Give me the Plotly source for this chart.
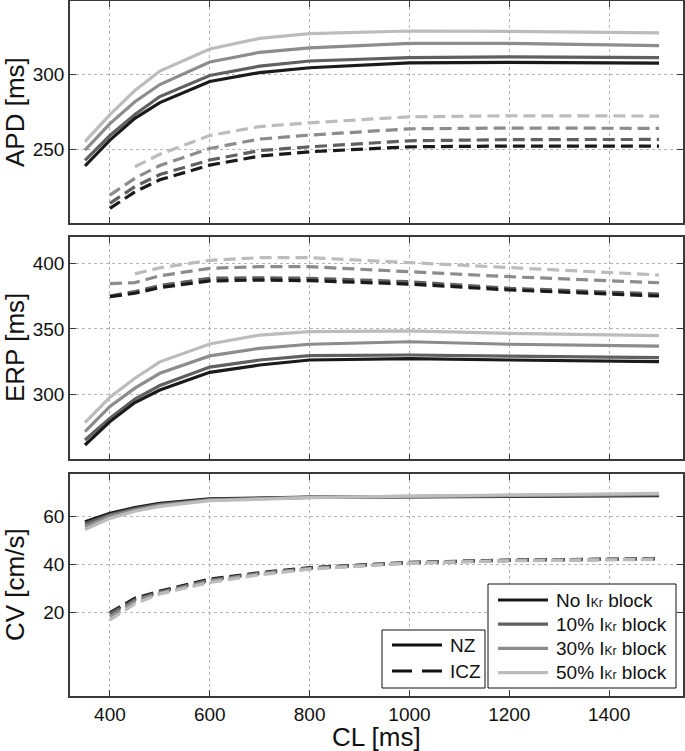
import plotly.graph_objects as go

# cycle length [ms]
CL = [350, 400, 450, 500, 600, 700, 800, 1000, 1200, 1500]

BLOCKS = ["No", "10%", "30%", "50%"]
COLORS = ["#1a1a1a", "#606060", "#8c8c8c", "#bcbcbc"]

# APD [ms]
APD_NZ = [
    [238.7, 256.0, 270.5, 281.0, 295.0, 301.0, 304.2, 307.5, 307.8, 307.3],
    [242.5, 259.0, 273.0, 285.0, 299.0, 305.3, 308.7, 311.0, 311.5, 311.0],
    [249.3, 267.0, 281.5, 293.0, 308.0, 314.5, 317.5, 320.4, 320.5, 319.0],
    [254.9, 273.0, 289.0, 302.0, 316.7, 323.8, 327.0, 328.7, 328.5, 327.5],
]
APD_ICZ = [
    [None, 210.4, 221.5, 229.5, 239.3, 245.3, 248.2, 251.5, 252.0, 252.0],
    [None, 213.8, 225.0, 233.0, 242.7, 249.0, 251.5, 255.5, 256.3, 256.4],
    [None, 219.3, 230.5, 239.0, 250.4, 256.7, 259.3, 263.5, 264.0, 263.8],
    [None, None, 238.2, 246.5, 259.0, 265.0, 267.5, 271.5, 272.2, 272.0],
]

# ERP [ms]
ERP_NZ = [
    [261.7, 279.5, 294.0, 303.5, 317.0, 322.6, 326.4, 327.5, 326.4, 325.1],
    [265.5, 282.0, 296.7, 307.0, 321.0, 326.4, 329.7, 330.2, 329.4, 328.2],
    [271.9, 291.0, 305.0, 316.3, 329.5, 335.3, 338.4, 340.3, 338.4, 337.0],
    [278.7, 298.0, 312.5, 325.0, 338.6, 345.4, 348.0, 348.5, 346.7, 344.9],
]
ERP_ICZ = [
    [None, 374.6, 377.2, 381.5, 386.6, 387.3, 386.8, 384.2, 379.7, 375.1],
    [None, 375.1, 378.5, 383.0, 388.6, 389.0, 388.6, 386.0, 381.0, 376.6],
    [None, 384.5, 385.3, 390.5, 396.2, 397.4, 397.4, 393.6, 389.8, 385.2],
    [None, None, 392.0, 396.5, 402.3, 404.3, 404.3, 400.5, 396.2, 391.1],
]

# CV [cm/s]
CV_NZ = [
    [57.9, 61.4, 63.8, 65.6, 67.5, 68.0, 68.2, 68.3, 68.6, 68.8],
    [57.0, 60.8, 63.3, 65.2, 67.2, 67.8, 68.1, 68.4, 68.8, 69.1],
    [55.8, 60.2, 62.8, 64.8, 67.0, 67.7, 68.1, 68.5, 69.0, 69.5],
    [54.6, 59.3, 62.3, 64.3, 66.7, 67.5, 68.0, 68.6, 69.2, 69.8],
]
CV_ICZ = [
    [None, 19.8, 25.8, 28.8, 33.8, 36.5, 38.6, 40.8, 41.8, 42.4],
    [None, 19.2, 25.2, 28.4, 33.4, 36.2, 38.4, 40.7, 41.7, 42.3],
    [None, 18.0, 24.4, 28.0, 33.0, 36.0, 38.2, 40.6, 41.6, 42.2],
    [None, 16.7, 23.4, 27.6, 32.4, 35.6, 38.0, 40.5, 41.5, 42.1],
]

X_TICKS = [400, 600, 800, 1000, 1200, 1400]
APD_TICKS = [250, 300]
ERP_TICKS = [300, 350, 400]
CV_TICKS = [20, 40, 60]

FONT = "Liberation Sans, Arial, sans-serif"
INK = "#111111"
FRAME = "#3a3a3a"
GRID = "#b5b5b5"
DASH = "12px,6px"
LW = 3.2

W, H = 685, 751
ML, MR, MT, MB = 70, 2, 1, 55
PW, PH = W - ML - MR, H - MT - MB


def px_x(px):
    return (px - ML) / PW


def px_y(py):
    return (H - MB - py) / PH


fig = go.Figure()

# (yaxis, NZ series, ICZ series, draw order)
panels = [
    ("y", APD_NZ, APD_ICZ, [3, 2, 1, 0]),
    ("y2", ERP_NZ, ERP_ICZ, [3, 2, 1, 0]),
    ("y3", CV_NZ, CV_ICZ, [0, 1, 2, 3]),   # grey bundle sits on top in CV
]
for i, (yref, nz, icz, order) in enumerate(panels):
    xref = "x" if i == 0 else f"x{i + 1}"
    for k in order:
        fig.add_trace(go.Scatter(x=CL, y=icz[k], mode="lines", xaxis=xref, yaxis=yref,
                                 line=dict(color=COLORS[k], width=LW, dash=DASH),
                                 showlegend=False, hoverinfo="skip"))
    for k in order:
        fig.add_trace(go.Scatter(x=CL, y=nz[k], mode="lines", xaxis=xref, yaxis=yref,
                                 line=dict(color=COLORS[k], width=LW),
                                 showlegend=False, hoverinfo="skip"))

# hand-drawn legends (MATLAB style: long line samples)
shapes, annotations = [], []


def legend_box(x0, x1, y0, y1):
    shapes.append(dict(type="rect", xref="paper", yref="paper",
                       x0=px_x(x0), x1=px_x(x1), y0=px_y(y1), y1=px_y(y0),
                       line=dict(color=INK, width=1), fillcolor="white", layer="above"))


def legend_item(x0, x1, yc, color, dash, text):
    shapes.append(dict(type="line", xref="paper", yref="paper",
                       x0=px_x(x0), x1=px_x(x1), y0=px_y(yc), y1=px_y(yc),
                       line=dict(color=color, width=LW, dash=dash), layer="above"))
    annotations.append(dict(xref="paper", yref="paper", x=px_x(x1 + 6), y=px_y(yc),
                            xanchor="left", yanchor="middle", showarrow=False, text=text,
                            font=dict(family=FONT, size=19, color=INK)))


legend_box(382, 485, 630, 688)
legend_item(392, 442, 645, INK, "solid", "NZ")
legend_item(392, 442, 671, INK, "20px,10px", "ICZ")

legend_box(488, 676, 584, 688)
for k, b in enumerate(BLOCKS):
    legend_item(498, 548, 600 + 24.2 * k, COLORS[k], "solid",
                f"{b} I<span style='font-size:12px'>Kr</span> block")

# axis titles
for text, yc in [("APD [ms]", 112), ("ERP [ms]", 348), ("CV [cm/s]", 585)]:
    annotations.append(dict(xref="paper", yref="paper", x=px_x(15), y=px_y(yc),
                            xanchor="center", yanchor="middle", textangle=-90,
                            showarrow=False, text=text,
                            font=dict(family=FONT, size=26, color=INK)))
annotations.append(dict(xref="paper", yref="paper", x=0.5, y=px_y(737),
                        xanchor="center", yanchor="middle", showarrow=False, text="CL [ms]",
                        font=dict(family=FONT, size=26, color=INK)))

xbase = dict(range=[320, 1548], tickvals=X_TICKS, showgrid=True, gridcolor=GRID, griddash="dot",
             gridwidth=1, showline=True, linecolor=FRAME, linewidth=1.5, mirror="allticks",
             ticks="inside", ticklen=6, tickcolor=FRAME, zeroline=False, automargin=False)
ybase = dict(showgrid=True, gridcolor=GRID, griddash="dot", gridwidth=1, showline=True,
             linecolor=FRAME, linewidth=1.5, mirror="allticks", ticks="inside", ticklen=6,
             tickcolor=FRAME, zeroline=False, automargin=False,
             tickfont=dict(size=19, color=INK))

fig.update_layout(
    template="none",
    width=W, height=H,
    paper_bgcolor="white", plot_bgcolor="white",
    font=dict(family=FONT, color=INK),
    margin=dict(l=ML, r=MR, t=MT, b=MB, autoexpand=False),
    showlegend=False,
    xaxis=dict(**xbase, anchor="y", showticklabels=False),
    xaxis2=dict(**xbase, anchor="y2", matches="x", showticklabels=False),
    xaxis3=dict(**xbase, anchor="y3", matches="x", tickfont=dict(size=19, color=INK)),
    yaxis=dict(**ybase, domain=[px_y(223), px_y(1)], range=[200.7, 348.7], tickvals=APD_TICKS),
    yaxis2=dict(**ybase, domain=[px_y(459.3), px_y(237.3)], range=[250.8, 419.8],
                tickvals=ERP_TICKS),
    yaxis3=dict(**ybase, domain=[px_y(696), px_y(474)], range=[-15.2, 77.9], tickvals=CV_TICKS),
    shapes=shapes,
    annotations=annotations,
)

# drop the browser's default 8px body margin so the figure sits at the page origin
fig.write_html("out.html", config={"displayModeBar": False},
               post_script="document.body.style.margin='0';"
                           "document.body.style.overflow='hidden';")
